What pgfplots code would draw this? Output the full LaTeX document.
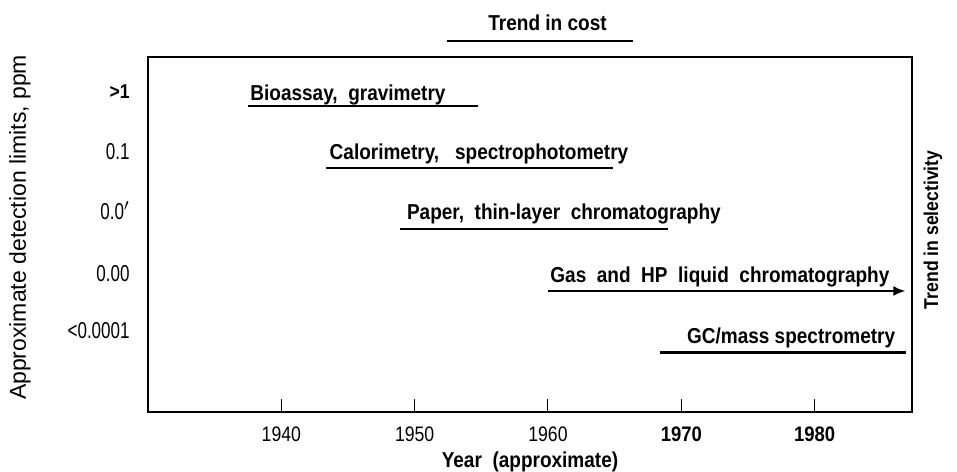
\documentclass[border=0pt]{standalone}
\usepackage{fontspec}
\setmainfont{Liberation Sans}
\newfontfamily\nb[FakeStretch=0.88]{Liberation Sans}
\newfontfamily\nx[FakeStretch=0.84]{Liberation Sans}
\newfontfamily\ny[FakeStretch=0.74]{Liberation Sans}
\usepackage{pgfplots}
\pgfplotsset{compat=1.18}
\usetikzlibrary{arrows.meta}
\newcommand\lab{\nb\bfseries\fontsize{10.8bp}{12bp}\selectfont}
\newcommand\xr{\nx\fontsize{10.5bp}{12bp}\selectfont}
\newcommand\xb{\nb\bfseries\fontsize{10.5bp}{12bp}\selectfont}
\newcommand\yr{\ny\fontsize{11.5bp}{13bp}\selectfont}
\newcommand\yb{\nb\bfseries\fontsize{10bp}{12bp}\selectfont}
\begin{document}
\begin{tikzpicture}
\begin{axis}[
  scale only axis, width=382bp, height=177.5bp,
  xmin=1930, xmax=1987.3, ymin=0, ymax=355,
  axis line style={line width=1.2bp},
  clip=false,
  xtick={1940,1950,1960,1970,1980},
  xticklabels={{\xr 1940},{\xr 1950},{\xr 1960},{\xb 1970},{\xb 1980}},
  xtick pos=bottom, xtick align=inside,
  major tick length=6.5bp,
  xtick style={line width=0.5bp, black},
  xticklabel style={anchor=north, inner sep=0pt, yshift=-7bp},
  ytick={320,260,201,138,81},
  yticklabels={{\yb >1},{\yr 0.1},{\yr 0.0$'$},{\yr 0.00},{\yr <0.0001}},
  ytick style={draw=none},
  yticklabel style={anchor=east, inner sep=0pt, xshift=-9bp},
  xlabel={Year\ \ (approximate)},
  xlabel style={at={(axis description cs:0.5,-0.141)}, anchor=center, font=\lab},
  ylabel={Approximate detection limits, ppm},
  ylabel style={at={(axis description cs:-0.1675,0.52)}, anchor=center, font=\fontsize{11.5bp}{13bp}\selectfont},
]
% method spans (year from, year to) at row heights
\addplot[black, line width=1bp] coordinates {(1937.5,306) (1954.75,306)};
\addplot[black, line width=1bp] coordinates {(1943.35,244) (1964.9,244)};
\addplot[black, line width=1bp] coordinates {(1948.9,183) (1969.0,183)};
\addplot[black, line width=1bp, -{Latex[length=6bp,width=5bp]}] coordinates {(1960.0,121) (1986.8,121)};
\addplot[black, line width=1.5bp] coordinates {(1968.4,59) (1986.85,59)};
% trend in cost bar
\addplot[black, line width=1bp] coordinates {(1952.4,370.5) (1966.4,370.5)};

\node[anchor=base west, inner sep=0pt, font=\lab] at (axis cs:1937.65,311) {Bioassay,\ \ gravimetry};
\node[anchor=base west, inner sep=0pt, font=\lab] at (axis cs:1943.6,252) {Calorimetry,\ \ \ spectrophotometry};
\node[anchor=base west, inner sep=0pt, font=\lab] at (axis cs:1949.4,192) {Paper,\ \ thin-layer\ \ chromatography};
\node[anchor=base west, inner sep=0pt, font=\lab] at (axis cs:1960.15,129) {Gas\ \ and\ \ HP\ \ liquid\ \ chromatography};
\node[anchor=base west, inner sep=0pt, font=\lab] at (axis cs:1970.4,68) {GC/mass\ spectrometry};
\node[anchor=base west, inner sep=0pt, font=\lab] at (axis cs:1955.5,381) {Trend in cost};
\node[anchor=center, rotate=90, inner sep=0pt, font=\nb\bfseries\fontsize{10bp}{12bp}\selectfont] at (rel axis cs:1.0275,0.513) {Trend in selectivity};
\coordinate (bbsw) at (rel axis cs:0,0);
\end{axis}
\pgfresetboundingbox
\path ([shift={(-74bp,-30bp)}]bbsw) rectangle ([shift={(404.5bp,206bp)}]bbsw);
\end{tikzpicture}
\end{document}
